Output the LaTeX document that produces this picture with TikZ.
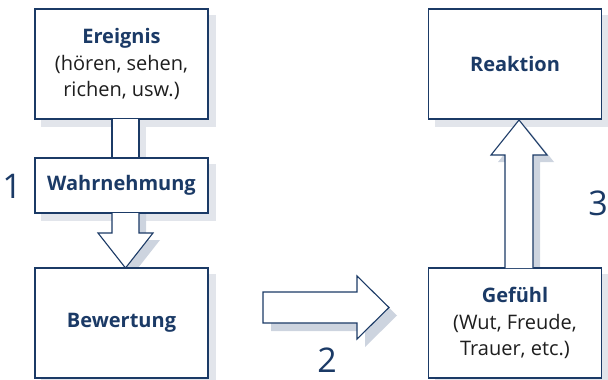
\documentclass[tikz,border=0pt]{standalone}
\usepackage{fontspec}
\setmainfont{Open Sans}
\usetikzlibrary{backgrounds,calc}
\definecolor{navy}{HTML}{1B3A66}
\definecolor{shad}{HTML}{E2E5EB}
\definecolor{ashad}{HTML}{CDD4DF}
\definecolor{txt}{HTML}{1E1E1E}
\tikzset{
  box/.style={draw=navy, line width=1.2pt, fill=white, inner sep=0pt, align=center,
    minimum width=173pt, text=txt, font=\fontsize{20}{26.5}\selectfont},
  bshadow/.style={fill=shad},
  ashadow/.style={fill=ashad},
  blockarrow/.style={draw=navy, line width=1.1pt, fill=white, line join=miter},
  num/.style={text=navy, font=\fontsize{34}{34}\selectfont, inner sep=0pt}
}
\begin{document}
\begin{tikzpicture}[x=1pt,y=-1pt]
\useasboundingbox (0,0) rectangle (608,380);
% boxes
\node[box, minimum height=110pt] (ev) at (121.5,64)
  {{\color{navy}\bfseries Ereignis}\\(hören, sehen,\\richen, usw.)};
\node[box, minimum height=55pt] (wa) at (121.5,185.5) {{\color{navy}\bfseries Wahrnehmung}};
\node[box, minimum height=110pt] (be) at (121.5,323) {{\color{navy}\bfseries Bewertung}};
\node[box, minimum height=110pt] (re) at (515,64) {{\color{navy}\bfseries Reaktion}};
\node[box, minimum height=110pt] (ge) at (515,323)
  {{\color{navy}\bfseries Gefühl}\\(Wut, Freude,\\Trauer, etc.)};
% block arrows
\draw[blockarrow] (112,119) -- (112,158) -- (139,158) -- (139,119);
\draw[blockarrow] (112,213) -- (112,233) -- (98,233) -- (125.5,268) -- (153,233) -- (139,233) -- (139,213);
\draw[blockarrow] (263,292) -- (357,292) -- (357,276) -- (389,307.5) -- (357,339) -- (357,323) -- (263,323) -- cycle;
\draw[blockarrow] (505,268) -- (505,155) -- (491,155) -- (519,120) -- (547,155) -- (533,155) -- (533,268);
% shadows
\begin{scope}[on background layer]
  \foreach \n in {ev,wa,be,re,ge}{
    \fill[bshadow] ($(\n.north west)+(7,7)$) rectangle ($(\n.south east)+(7,7)$);
  }
  \fill[bshadow] (119,119) rectangle (146,165);
  \fill[ashadow] (119,213) -- (119,240) -- (105,240) -- (132.5,275) -- (160,240) -- (146,240) -- (146,213) -- cycle;
  \fill[ashadow] (271,300) -- (365,300) -- (365,284) -- (397,315.5) -- (365,347) -- (365,331) -- (271,331) -- cycle;
  \fill[ashadow] (512,268) -- (512,162) -- (498,162) -- (526,127) -- (554,162) -- (540,162) -- (540,268) -- cycle;
\end{scope}
% numbers
\node[num] (n1) at (12,186) {1};
\node[num] (n2) at (327,360) {2};
\node[num] (n3) at (598,203) {3};
\end{tikzpicture}
\end{document}
